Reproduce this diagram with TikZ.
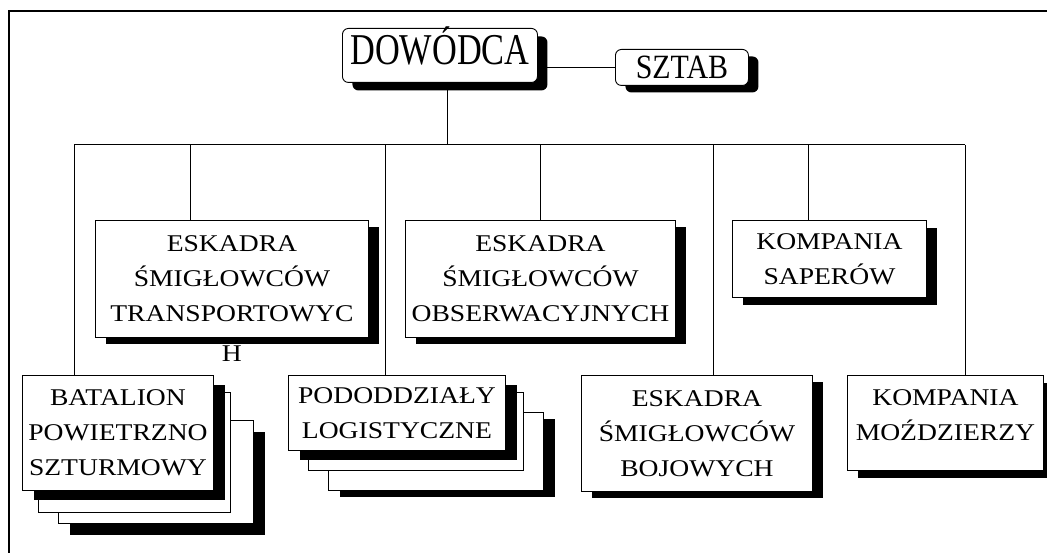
\documentclass[tikz,border=0pt]{standalone}
\usepackage{fontspec}
\setmainfont{Liberation Serif}
\newfontfamily\unitfont[FakeStretch=1.15]{Liberation Serif}
\newfontfamily\headfont[FakeStretch=0.78]{Liberation Serif}
\newfontfamily\stafffont[FakeStretch=0.88]{Liberation Serif}
\usetikzlibrary{shadows}

\tikzset{
  unit/.style={draw, line width=0.9pt, fill=white, inner sep=0pt, anchor=north west,
    align=center, font=\unitfont\fontsize{24}{35}\selectfont},
  chief/.style={unit, rounded corners=6pt},
  dropblk/.style={drop shadow={shadow xshift=11pt, shadow yshift=-7pt, opacity=1, fill=black, #1}},
  dropblk/.default={},
  link/.style={line width=1pt}
}

\begin{document}
\begin{tikzpicture}[x=1pt, y=-1pt]
  \useasboundingbox (0,0) rectangle (1047,553);
  % frame
  \draw[line width=1.1pt] (9,553) |- (1047,11);

  % Command
  \node[chief, dropblk={shadow yshift=-8pt, shadow xshift=10pt}, minimum width=195pt, minimum height=54pt,
    font=\headfont\fontsize{44}{50}\selectfont, text height=30pt, text depth=12pt] (dow) at (342,28) {DOWÓDCA};
  \node[chief, dropblk={shadow xshift=10pt}, minimum width=133pt, minimum height=36pt,
    font=\stafffont\fontsize{34}{40}\selectfont, text height=22.5pt, text depth=0pt] (szt) at (615,49) {SZTAB};

  % Upper row
  \node[unit, dropblk, minimum width=273pt, minimum height=117pt,
    label={[font=\unitfont\fontsize{24}{35}\selectfont, inner sep=0pt, yshift=-8pt]below:H}] (trans) at (95,220)
    {ESKADRA\\ŚMIGŁOWCÓW\\TRANSPORTOWYC};
  \node[unit, dropblk, minimum width=270pt, minimum height=117pt] (obs) at (405,220)
    {ESKADRA\\ŚMIGŁOWCÓW\\OBSERWACYJNYCH};
  \node[unit, dropblk={shadow yshift=-8pt}, minimum width=194pt, minimum height=77pt] (sap) at (732,220)
    {KOMPANIA\\SAPERÓW};

  % Lower row
  \node[unit, dropblk={shadow xshift=12pt, shadow yshift=-12pt}, minimum width=195pt, minimum height=103pt] (bat3) at (58,420) {};
  \node[unit, minimum width=192pt, minimum height=120pt] (bat2) at (38,392) {};
  \node[unit, dropblk={shadow xshift=12pt, shadow yshift=-10pt}, minimum width=191pt, minimum height=115pt] (bat) at (22,375)
    {BATALION\\POWIETRZNO\\SZTURMOWY};

  \node[unit, dropblk={shadow xshift=12pt}, minimum width=215pt, minimum height=78pt] (pod3) at (328,412) {};
  \node[unit, minimum width=215pt, minimum height=78pt] (pod2) at (308,392) {};
  \node[unit, dropblk={shadow xshift=12pt, shadow yshift=-10pt}, minimum width=217pt, minimum height=75pt] (pod) at (288,375)
    {PODODDZIAŁY\\LOGISTYCZNE};

  \node[unit, dropblk, minimum width=231pt, minimum height=116pt] (boj) at (581,375)
    {ESKADRA\\ŚMIGŁOWCÓW\\BOJOWYCH};
  \node[unit, dropblk={shadow yshift=-8pt}, minimum width=196pt, minimum height=95pt, text depth=16pt] (moz) at (847,375)
    {KOMPANIA\\MOŹDZIERZY};

  % bus
  \coordinate (b0) at (447,145);
  \coordinate (b1) at (74,145);
  \coordinate (b2) at (190,145);
  \coordinate (b3) at (385,145);
  \coordinate (b4) at (540,145);
  \coordinate (b5) at (713,145);
  \coordinate (b6) at (808,145);
  \coordinate (b7) at (965,145);

  % Links
  \draw[link] (szt.west) -- (szt.west -| dow.east);
  \draw[link] (b0 |- dow.south) -- (b0);
  \draw[link] (b1) -- (b7);
  \draw[link] (b1) -- (b1 |- bat.north);
  \draw[link] (b2) -- (b2 |- trans.north);
  \draw[link] (b3) -- (b3 |- pod.north);
  \draw[link] (b4) -- (b4 |- obs.north);
  \draw[link] (b5) -- (b5 |- boj.north);
  \draw[link] (b6) -- (b6 |- sap.north);
  \draw[link] (b7) -- (b7 |- moz.north);
\end{tikzpicture}
\end{document}
